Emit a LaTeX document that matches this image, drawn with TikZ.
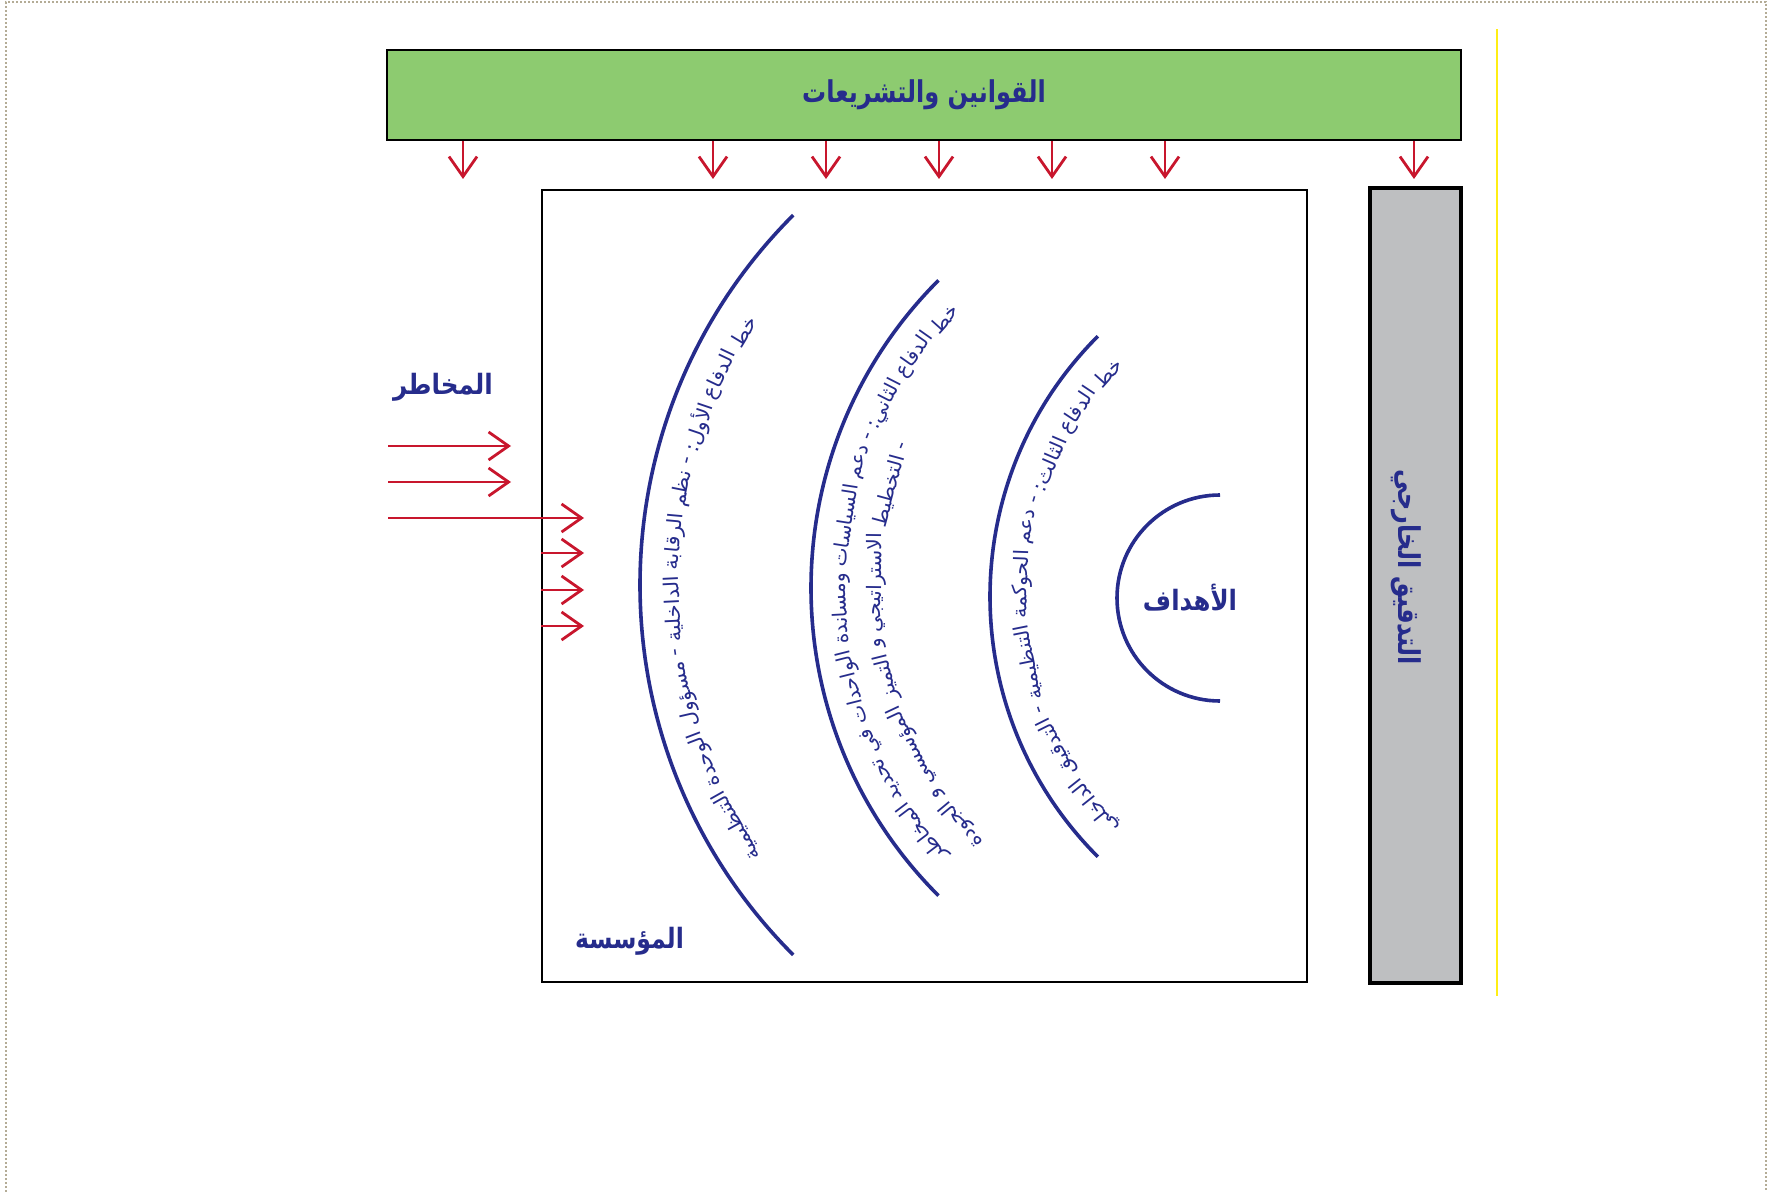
\documentclass[tikz,border=0pt]{standalone}
\usepackage{fontspec}
\usepackage{graphicx}
\usetikzlibrary{arrows.meta}
\TeXXeTstate=1
\newfontfamily\arabicfont[Script=Arabic]{DejaVu Sans}
\definecolor{dblue}{RGB}{38,44,140}
\definecolor{lawgreen}{RGB}{141,203,112}
\definecolor{auditgray}{RGB}{190,191,193}
\definecolor{riskred}{RGB}{200,22,45}
\definecolor{framegray}{RGB}{180,172,150}
\definecolor{guideyellow}{RGB}{255,238,20}
\newlength\wlen
\newsavebox\wordbox
\newcommand\arcfont{\arabicfont\fontsize{10}{12}\selectfont}
\newcommand\wgap{6}
\newcommand\measureword[1]{%
  \pgfinterruptpicture
  \sbox\wordbox{\arcfont\beginR#1\endR}%
  \global\wlen=\wd\wordbox
  \endpgfinterruptpicture}
\newcommand\arcwords[7]{%
  \gdef\totw{0}\gdef\nw{0}%
  \foreach \w in {#6}{%
    \measureword{\w}%
    \pgfmathsetmacro\tmpw{\totw+\wlen}\xdef\totw{\tmpw}%
    \pgfmathsetmacro\tmpw{\nw+1}\xdef\nw{\tmpw}%
  }%
  \pgfmathsetmacro\facc{(#5-#4)*pi/180*#3/(2*\totw+(\nw-1)*\wgap)}%
  \xdef\fac{\facc}%
  \xdef\cura{#4}%
  \foreach[count=\i] \w in {#6}{%
    \measureword{\w}%
    \pgfmathsetmacro\ww{2*\wlen*\fac}%
    \pgfmathsetmacro\mida{\cura+\ww/2/#3*180/pi}%
    \pgfmathsetmacro\nexta{\cura+(\ww+\wgap*\fac)/#3*180/pi}%
    \xdef\cura{\nexta}%
    \node[arcword, rotate=\mida-90] (#7-\i) at ([shift={(#1,#2)}]\mida:#3) {\scalebox{\fac}[1]{\arcfont\beginR\w\endR}};
  }%
}
\tikzset{
  arcword/.style={inner sep=0pt, text=dblue, anchor=center},
  arcline/.style={draw=dblue, line width=1.8pt},
  redarrow/.style={draw=riskred, line width=1.4pt, -{Straight Barb[length=10pt,width=14pt]}},
  boxline/.style={draw=black, line width=1.4pt},
  biglabel/.style={text=dblue, inner sep=0pt, font=\arabicfont\bfseries\fontsize{14}{16}\selectfont},
}
\begin{document}
\begin{tikzpicture}[x=0.5pt,y=0.5pt]
\useasboundingbox (0,0) rectangle (1771,-1192);
% page frame
\draw[framegray, line width=0.6pt, dash pattern=on 1pt off 1pt] (6,-1192) -- (6,-2) -- (1766,-2) -- (1766,-1192);
% yellow guide
\draw[guideyellow, line width=0.6pt] (1497,-29) -- (1497,-996);
% laws box
\node[boxline, fill=lawgreen, minimum width=537pt, minimum height=45pt, inner sep=0pt,
      text=dblue, font=\arabicfont\bfseries\fontsize{15}{17}\selectfont] (laws) at (924,-95) {\scalebox{0.8}[1]{\beginR القوانين والتشريعات\endR}};
% institution box
\node[draw=black, line width=1pt, fill=white, minimum width=382.5pt, minimum height=395.75pt, inner sep=0pt] (inst) at (924.5,-585.75) {};
% external audit box
\node[boxline, line width=1.6pt, fill=auditgray, minimum width=45.5pt, minimum height=397.5pt, inner sep=0pt] (audit) at (1415.5,-585.5) {};
\node[biglabel, rotate=-90, font=\arabicfont\bfseries\fontsize{15}{17}\selectfont] (audittext) at (1406,-567) {\scalebox{0.8}[1]{\beginR التدقيق الخارجي\endR}};
% down arrows
\foreach \x [count=\i] in {463,713,826,939,1052,1165,1414}{
  \coordinate (d\i) at (\x,-179);
  \draw[redarrow] (laws.south -| d\i) -- (d\i);
}
% risk arrows
\node[biglabel] (risk) at (443,-387) {\scalebox{0.88}[1]{\beginR المخاطر\endR}};
\coordinate (r1s) at (388,-446); \coordinate (r1e) at (511,-446);
\coordinate (r2s) at (388,-482); \coordinate (r2e) at (511,-482);
\coordinate (r3s) at (388,-518); \coordinate (r3e) at (584,-518);
\coordinate (r4e) at (584,-553); \coordinate (r5e) at (584,-590); \coordinate (r6e) at (584,-626);
\draw[redarrow] (r1s) -- (r1e);
\draw[redarrow] (r2s) -- (r2e);
\draw[redarrow] (r3s) -- (r3e);
\draw[redarrow] (inst.west |- r4e) -- (r4e);
\draw[redarrow] (inst.west |- r5e) -- (r5e);
\draw[redarrow] (inst.west |- r6e) -- (r6e);
% defence arcs
\draw[arcline] ([shift={(1163,-585)}]135:523) arc[start angle=135, end angle=225, radius=523];
\draw[arcline] ([shift={(1246,-588)}]135:435) arc[start angle=135, end angle=225, radius=435];
\draw[arcline] ([shift={(1358,-596.5)}]135:368) arc[start angle=135, end angle=225, radius=368];
\draw[arcline] ([shift={(1220,-598)}]90:103) arc[start angle=90, end angle=270, radius=103];
% arc texts
\arcwords{1163}{-585}{490}{147}{214}{خط,الدفاع,الأول:,-,نظم,الرقابة,الداخلية,-,مسؤول,الوحدة,التنظيمية}{a}
\arcwords{1246}{-588}{405}{136}{222}{خط,الدفاع,الثاني:,-,دعم,السياسات,ومساندة,الواحدات,في,تحديد,المخاطر}{b}
\arcwords{1246}{-588}{370}{157}{224}{-,التخطيط,الاستراتيجي,و,التميز,المؤسسي,و,الجودة}{c}
\arcwords{1358}{-596.5}{336}{135.5}{224}{خط,الدفاع,الثالث:,-,دعم,الحوكمة,التنظيمية,-,التدقيق,الداخلي}{d}
% labels
\node[biglabel] (goals) at (1190,-598) {\scalebox{0.87}[1]{\beginR الأهداف\endR}};
\node[biglabel] (org) at (629.5,-941) {\scalebox{0.84}[1]{\beginR المؤسسة\endR}};
\end{tikzpicture}
\end{document}
